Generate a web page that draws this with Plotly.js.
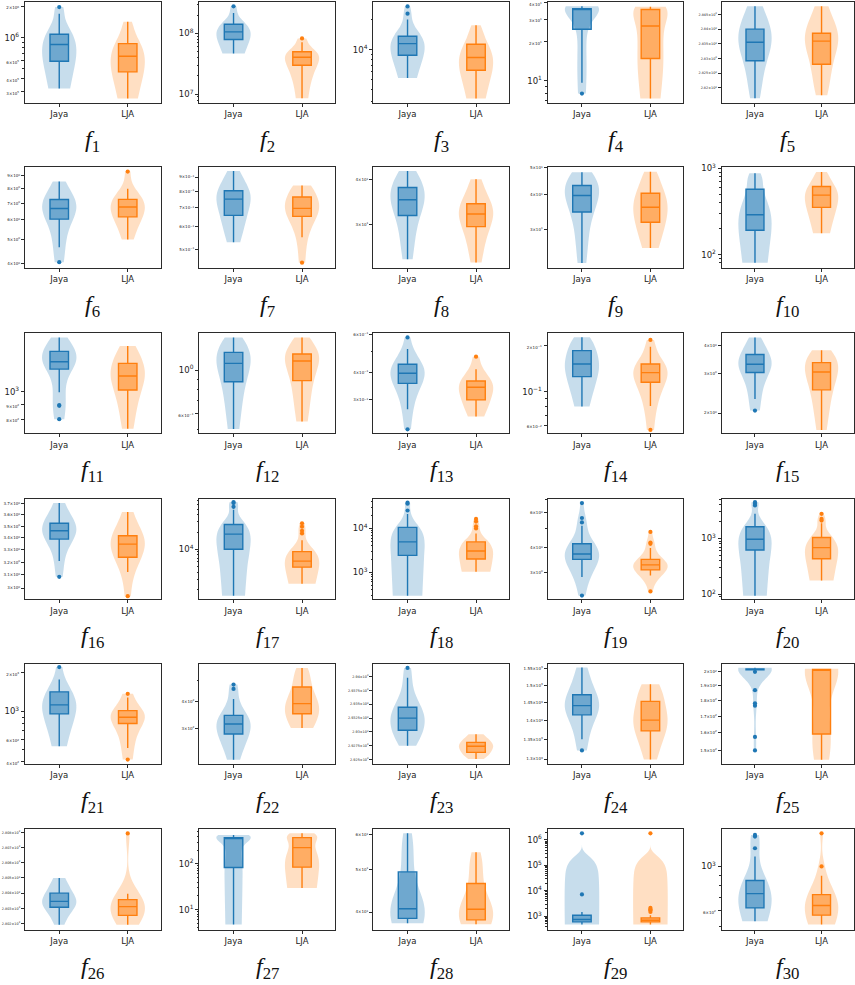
<!DOCTYPE html>
<html>
<head>
<meta charset="utf-8">
<script src="https://cdn.plot.ly/plotly-3.0.1.min.js"></script>
<style>
  html, body { margin: 0; padding: 0; background: #ffffff; }
  #chart { width: 855px; height: 985px; }
</style>
</head>
<body>
<div id="chart"></div>
<script>
// Benchmark functions f1..f30, two algorithms compared on each.
const functionLabels = Array.from({length: 30}, (_, i) => String(i + 1));
const algorithms = ['Jaya', 'LJA'];

// Final objective values per run, Jaya.
const jayaRuns = [
  [3.24e5, 4.0e5, 5.0e5, 5.92e5, 6.5e5, 7.5e5, 8.58e5, 9.2e5, 1.0e6, 1.076e6, 1.3e6, 1.70e6, 1.97e6],
  [4.7e7, 5.8e7, 7.0e7, 7.97e7, 8.8e7, 9.8e7, 1.065e8, 1.15e8, 1.28e8, 1.42e8, 1.6e8, 2.18e8, 2.8e8],
  [5.2e3, 6.2e3, 7.0e3, 8.0e3, 8.78e3, 9.5e3, 1.02e4, 1.09e4, 1.148e4, 1.2e4, 1.26e4, 1.31e4, 1.36e4, 1.6e4, 2.0e4, 2.29e4, 2.71e4],
  [7.98, 9.66, 14, 20, 25.0, 30, 34, 35.5, 35.9, 36.0, 36.0, 36.1, 36.1, 36.3, 36.8, 37.2, 37.7],
  [2816.4, 2821, 2825.5, 2829.2, 2832, 2834, 2835.5, 2836.8, 2838.2, 2840, 2842, 2844.5, 2847.8],
  [4.06, 4.66, 5.5, 6.04, 6.3, 6.5, 6.665, 6.8, 7.0, 7.24, 7.6, 8.0, 8.545],
  [0.530, 0.58, 0.62, 0.659, 0.69, 0.725, 0.752, 0.77, 0.785, 0.805, 0.84, 0.89, 0.946],
  [24.0, 26.5, 29.5, 31.8, 33.2, 34.3, 35.2, 36.0, 37.0, 38.1, 39.3, 40.8, 42.4],
  [22.8, 27, 31.5, 34.7, 36.5, 38.3, 39.8, 40.8, 42.0, 43.2, 44.8, 46.5, 48.2],
  [80.1, 110, 150, 191, 215, 250, 289, 340, 430, 572, 680, 780, 875],
  [800, 891, 897, 995, 1200, 1230, 1250, 1265, 1274, 1295, 1320, 1350, 1385, 1420, 1470, 1510, 1551],
  [0.504, 0.62, 0.76, 0.873, 0.95, 1.02, 1.080, 1.12, 1.17, 1.228, 1.30, 1.38, 1.461],
  [0.220, 0.2719, 0.31, 0.338, 0.357, 0.368, 0.378, 0.388, 0.3972, 0.405, 0.414, 0.425, 0.4367, 0.455, 0.48, 0.513, 0.580],
  [0.0797, 0.095, 0.112, 0.1254, 0.134, 0.143, 0.1518, 0.16, 0.172, 0.1856, 0.198, 0.212, 0.2269],
  [2.05, 2.312, 2.75, 3.04, 3.14, 3.23, 3.306, 3.38, 3.5, 3.655, 3.85, 4.1, 4.363],
  [3.085, 3.21, 3.32, 3.389, 3.42, 3.445, 3.461, 3.478, 3.5, 3.526, 3.57, 3.63, 3.707],
  [1540, 2500, 4000, 6000, 8000, 1.0e4, 1.15e4, 1.3e4, 1.5e4, 1.65e4, 1.84e4, 2.0e4, 2.15e4, 2.3e4, 2.5e4, 2.7e4, 3.5e4, 4.88e4, 5.5e4, 6.4e4, 6.66e4],
  [290, 600, 1000, 1500, 2000, 2430, 2800, 3200, 3700, 4300, 4920, 5600, 6400, 7500, 9000, 1.054e4, 1.5e4, 2.14e4, 2.56e4, 3.65e4, 3.85e4],
  [2.30, 2.85, 3.1, 3.3, 3.42, 3.5, 3.56, 3.6, 3.65, 3.69, 3.726, 3.78, 3.86, 3.95, 4.07, 4.2, 4.7, 5.17, 5.375, 5.66, 6.73],
  [93.3, 180, 280, 400, 520, 622, 680, 750, 820, 900, 972, 1050, 1150, 1280, 1450, 1630, 2100, 2770, 3930, 4210, 4520],
  [531, 680, 830, 953, 1010, 1060, 1121, 1190, 1290, 1420, 1560, 1774, 2220],
  [216.4, 235, 255, 270, 283.6, 292, 300, 308, 315, 322, 329, 337, 345, 370, 410, 455.5, 476.8],
  [2927.5, 2928.2, 2929, 2929.7, 2930.3, 2930.9, 2931.5, 2932, 2932.5, 2933, 2933.5, 2934, 2934.45, 2935.5, 2937, 2939.8, 2941.6],
  [1322, 1351, 1390, 1416.5, 1425, 1434, 1442, 1450, 1460, 1473, 1495, 1525, 1553],
  [150, 157.6, 176.7, 178.2, 187, 200, 201.3, 201.5, 201.55, 201.6, 201.62, 201.65, 201.68, 201.7, 201.72, 201.75, 201.8, 201.85, 201.9, 201.95, 202.0, 202.1, 202.2, 202.3, 202.4, 202.5, 202.7, 202.85, 202.95],
  [2801.93, 2802.4, 2802.8, 2803.07, 2803.2, 2803.33, 2803.46, 2803.58, 2803.75, 2804.0, 2804.3, 2804.6, 2804.99],
  [4.72, 20, 50, 83.2, 200, 330, 373, 373, 373, 373, 390, 410, 427],
  [37.7, 38.0, 38.4, 38.7, 39.3, 40.0, 40.7, 41.8, 44.0, 49.4, 53, 57, 60.5],
  [472, 500, 520, 540, 560, 575, 590, 600, 620, 640, 660, 680, 700, 720, 741, 780, 820, 870, 920, 980, 1040, 1094, 1150, 1250, 1350, 1420, 1476, 7200, 1.82e6],
  [531, 560, 585, 605, 619, 640, 670, 700, 730, 760, 790, 820, 850, 1122, 1235, 1413, 1440]
];

// Final objective values per run, LJA.
const ljaRuns = [
  [2.59e5, 3.4e5, 4.1e5, 4.68e5, 5.3e5, 6.0e5, 6.62e5, 7.2e5, 8.0e5, 8.75e5, 1.0e6, 1.2e6, 1.42e6],
  [8.6e6, 1.7e7, 2.5e7, 3.0e7, 3.4e7, 3.8e7, 4.05e7, 4.3e7, 4.6e7, 5.0e7, 5.6e7, 7.2e7, 8.3e7],
  [3.24e3, 4.2e3, 5.3e3, 6.21e3, 6.9e3, 7.6e3, 8.32e3, 9.0e3, 1.0e4, 1.13e4, 1.3e4, 1.5e4, 1.75e4],
  [7.3, 8.5, 11, 14.9, 18, 22, 26.5, 30, 33, 35.5, 36.2, 36.8, 37.3],
  [2817.5, 2821, 2825, 2828, 2831, 2834, 2835.9, 2836.8, 2837.7, 2838.6, 2841, 2844, 2847.8],
  [5.0, 5.5, 5.9, 6.17, 6.4, 6.6, 6.76, 6.9, 7.05, 7.25, 7.5, 8.0, 9.37],
  [0.449, 0.552, 0.61, 0.654, 0.67, 0.685, 0.698, 0.71, 0.735, 0.765, 0.79, 0.815, 0.840],
  [23.5, 25.5, 27.8, 29.6, 30.6, 31.4, 32.1, 32.8, 33.5, 34.3, 35.8, 37.8, 40.2],
  [25.8, 27.5, 30.0, 31.9, 33.5, 34.9, 36.1, 37.3, 38.8, 40.5, 42.5, 45.5, 48.4],
  [176, 230, 300, 352, 400, 445, 488, 520, 560, 614, 700, 800, 907],
  [740, 830, 930, 1013, 1060, 1100, 1135, 1170, 1210, 1257, 1310, 1380, 1446],
  [0.549, 0.66, 0.78, 0.884, 0.97, 1.05, 1.110, 1.14, 1.17, 1.204, 1.27, 1.36, 1.461],
  [0.2518, 0.268, 0.285, 0.300, 0.318, 0.332, 0.3428, 0.35, 0.358, 0.366, 0.385, 0.4143, 0.4733],
  [0.056, 0.0805, 0.095, 0.106, 0.115, 0.12, 0.125, 0.129, 0.1332, 0.137, 0.141, 0.146, 0.1518, 0.162, 0.178, 0.1972, 0.2181],
  [1.68, 2.0, 2.3, 2.54, 2.72, 2.9, 3.052, 3.15, 3.25, 3.363, 3.5, 3.68, 3.823],
  [2.94, 3.123, 3.19, 3.24, 3.29, 3.32, 3.347, 3.37, 3.39, 3.418, 3.47, 3.54, 3.625],
  [2510, 3200, 3800, 4300, 4600, 4880, 5100, 5400, 5700, 6000, 6220, 6500, 7000, 7600, 8300, 9100, 1.44e4, 1.89e4, 2.1e4, 2.48e4, 2.84e4],
  [1020, 1200, 1400, 1600, 1800, 2000, 2200, 2450, 2650, 2850, 3050, 3300, 3600, 4000, 4400, 4920, 7670, 1.0e4, 1.12e4, 1.43e4, 1.64e4],
  [2.415, 2.907, 2.98, 3.03, 3.07, 3.1, 3.15, 3.19, 3.22, 3.25, 3.285, 3.32, 3.36, 3.4, 3.45, 3.5, 3.7, 4.0, 4.194, 4.26, 4.814],
  [175, 230, 290, 340, 390, 433, 480, 530, 580, 630, 686, 740, 800, 870, 950, 1040, 1400, 1870, 2100, 2250, 2770],
  [417, 515, 700, 800, 840, 870, 897, 930, 970, 1010, 1100, 1280, 1370],
  [302, 318, 335, 351, 362, 375, 390, 405, 430, 465, 500, 535, 568],
  [2925.1, 2925.6, 2926.0, 2926.3, 2926.7, 2927.1, 2927.4, 2927.6, 2927.85, 2928.1, 2928.6, 2929.1, 2929.58],
  [1299, 1325, 1350, 1373, 1385, 1394, 1402, 1415, 1433, 1454, 1470, 1487, 1503],
  [145, 150, 155, 159.3, 170, 190, 201.5, 201.6, 201.7, 201.8, 201.9, 202.0, 202.2],
  [2801.93, 2802.15, 2802.35, 2802.54, 2802.75, 2802.95, 2803.11, 2803.25, 2803.4, 2803.57, 2803.75, 2803.96, 2807.93],
  [29.6, 45, 65, 84.7, 100, 130, 226, 300, 350, 373, 420, 445, 464],
  [37.5, 37.8, 38.1, 38.4, 39.0, 39.8, 40.6, 41.8, 43.5, 46.5, 50.0, 51.5, 54.8],
  [472, 490, 510, 530, 550, 565, 585, 600, 615, 630, 645, 660, 672, 685, 697, 715, 735, 760, 785, 810, 835, 861, 950, 1090, 1480, 1700, 1900, 2120, 1.82e6],
  [511, 525, 540, 555, 569, 585, 600, 618, 636, 655, 675, 698, 722, 800, 898, 1000, 1468]
];

// Labelled y ticks of each panel (log scale).
const yTickValues = [
  [3e5, 4e5, 6e5, 1e6, 2e6],
  [1e7, 1e8],
  [1e4],
  [10, 20, 30, 40],
  [2820, 2825, 2830, 2835, 2840, 2845],
  [4, 5, 6, 7, 8, 9],
  [0.5, 0.6, 0.7, 0.8, 0.9],
  [30, 40],
  [30, 40, 50],
  [100, 1000],
  [800, 900, 1000],
  [0.6, 1],
  [0.3, 0.4, 0.6],
  [0.06, 0.1, 0.2],
  [2, 3, 4],
  [3.0, 3.1, 3.2, 3.3, 3.4, 3.5, 3.6, 3.7],
  [1e4],
  [1e3, 1e4],
  [3, 4, 6],
  [100, 1000],
  [400, 600, 1000, 2000],
  [300, 400],
  [2925, 2927.5, 2930, 2932.5, 2935, 2937.5, 2940],
  [1300, 1350, 1400, 1450, 1500, 1550],
  [150, 160, 170, 180, 190, 200],
  [2802, 2803, 2804, 2805, 2806, 2807, 2808],
  [10, 100],
  [40, 50, 60],
  [1e3, 1e4, 1e5, 1e6],
  [600, 1000]
];

// ---- layout configuration ----
// visible y extent of each panel (data units, drawn on a log axis)
const yBounds = [
  [2.371e5, 2.203e6], [7.295e6, 3.304e8], [2951, 2.999e4], [6.81, 40.6], [2815, 2849.3],
  [3.855, 9.745], [0.4307, 0.974], [22.7, 43.4], [21.9, 50.2], [70.2, 1027],
  [714, 1611], [0.4795, 1.543], [0.2112, 0.6095], [0.0533, 0.2434], [1.624, 4.58],
  [2.918, 3.748], [1346, 7.62e4], [242.7, 4.753e4], [2.206, 7.08], [81.1, 5188],
  [385, 2370], [206.8, 595], [2924.2, 2942.4], [1287.5, 1565], [142.7, 206.2],
  [2801.61, 2808.22], [3.67, 577], [36.5, 61.9], [300.6, 2.69e6], [482, 1543]
];
// panels whose tick marks are only the labelled ones (narrow value span)
const labelledTicksOnly = new Set([4, 15, 22, 23, 24, 25]);

const W = 855, H = 985;
const colLeft = [25, 199.3, 373.3, 547.7, 721.7];
const rowTop = [2, 167.3, 332.7, 498.7, 663.5, 829];
const axW = 135.6, axH = 100.5;
const colors = { Jaya: '#1f77b4', LJA: '#ff7f0e' };
const violinFill = { Jaya: 'rgba(31,119,180,0.25)', LJA: 'rgba(255,127,14,0.25)' };
const boxFill = { Jaya: 'rgba(31,119,180,0.52)', LJA: 'rgba(255,127,14,0.52)' };
const AXIS_COLOR = '#2b2b2b';
const MAJOR_LABEL_SIZE = 8.5, MINOR_LABEL_SIZE = 4, LONG_MINOR_LABEL_SIZE = 3.4;

function isDecade(v) {
  const l = Math.log10(v);
  return Math.abs(l - Math.round(l)) < 1e-9;
}

function mantissa(v) {
  const e = Math.floor(Math.log10(v) + 1e-9);
  return { m: +(v / Math.pow(10, e)).toPrecision(6), e: e };
}

// "10^n" for decades, "m×10^n" (small print) for the other labelled ticks
function tickText(v, mixed) {
  const { m, e } = mantissa(v);
  const ex = e < 0 ? '\u2212' + (-e) : String(e);
  if (isDecade(v)) return '10<sup>' + ex + '</sup>';
  const t = m + '\u00d710<sup>' + ex + '</sup>';
  return mixed ? '<span style="font-size:' + MINOR_LABEL_SIZE + 'px">' + t + '</span>' : t;
}

function minorMarks(lo, hi, labelled) {
  const out = [];
  for (let e = Math.floor(Math.log10(lo)) - 1; e <= Math.ceil(Math.log10(hi)); e++) {
    for (let k = 1; k <= 9; k++) {
      const v = k * Math.pow(10, e);
      if (v >= lo && v <= hi && !labelled.some(t => Math.abs(t - v) / v < 1e-9)) out.push(v);
    }
  }
  return out;
}

// Scott's rule bandwidth, as used for the kernel density of each violin
function scottBandwidth(vals) {
  const n = vals.length;
  const mean = vals.reduce((a, b) => a + b, 0) / n;
  const sd = Math.sqrt(vals.reduce((a, b) => a + (b - mean) * (b - mean), 0) / (n - 1));
  return sd * Math.pow(n, -0.2);
}

const traces = [];
const layout = {
  width: W, height: H,
  margin: { l: 0, r: 0, t: 0, b: 0 },
  paper_bgcolor: '#ffffff', plot_bgcolor: '#ffffff',
  showlegend: false,
  violinmode: 'overlay', boxmode: 'overlay',
  font: { family: 'DejaVu Sans, sans-serif', size: 8.5, color: '#222222' },
  annotations: []
};

functionLabels.forEach((label, i) => {
  const r = Math.floor(i / 5), c = i % 5;
  const xa = i === 0 ? 'x' : 'x' + (i + 1);
  const ya = i === 0 ? 'y' : 'y' + (i + 1);
  const left = colLeft[c], right = Math.min(colLeft[c] + axW, 853.5);
  const top = rowTop[r], bottom = rowTop[r] + axH;

  [jayaRuns[i], ljaRuns[i]].forEach((vals, k) => {
    const alg = algorithms[k];
    traces.push({
      type: 'violin', xaxis: xa, yaxis: ya, x0: k, y: vals, name: alg,
      width: 0.5, scalemode: 'width', spanmode: 'hard', side: 'both',
      bandwidth: scottBandwidth(vals),
      points: false, box: { visible: false }, meanline: { visible: false },
      fillcolor: violinFill[alg], line: { width: 0, color: 'rgba(0,0,0,0)' },
      hoverinfo: 'skip'
    });
    traces.push({
      type: 'box', xaxis: xa, yaxis: ya, x0: k, y: vals, name: alg,
      width: 0.27, quartilemethod: 'inclusive', boxpoints: 'outliers',
      jitter: 0, pointpos: 0, whiskerwidth: 0,
      fillcolor: boxFill[alg], line: { color: colors[alg], width: 1.4 },
      marker: { color: colors[alg], size: 4.2, line: { width: 0 } },
      hoverinfo: 'skip'
    });
  });

  const [lo, hi] = yBounds[i];
  const ticks = yTickValues[i];
  const hasDecade = ticks.some(isDecade);
  const hasOther = ticks.some(v => !isDecade(v));
  const mixed = hasDecade && hasOther;
  const longLabels = ticks.some(v => String(mantissa(v).m).length > 4);
  const labelSize = hasDecade ? MAJOR_LABEL_SIZE : (longLabels ? LONG_MINOR_LABEL_SIZE : MINOR_LABEL_SIZE);
  const yAxis = {
    domain: [1 - bottom / H, 1 - top / H],
    anchor: xa, type: 'log',
    range: [Math.log10(lo), Math.log10(hi)],
    tickmode: 'array', tickvals: ticks, ticktext: ticks.map(v => tickText(v, mixed)),
    ticks: 'outside', ticklen: 3, tickwidth: 0.8, tickcolor: AXIS_COLOR,
    tickfont: { family: 'DejaVu Sans, sans-serif', size: labelSize, color: '#222222' },
    showline: true, linecolor: AXIS_COLOR, linewidth: 1.3, mirror: true,
    showgrid: false, zeroline: false, fixedrange: true
  };
  if (!labelledTicksOnly.has(i)) {
    yAxis.minor = {
      tickmode: 'array', tickvals: minorMarks(lo, hi, ticks),
      ticks: 'outside', ticklen: 1.6, tickwidth: 0.6, tickcolor: AXIS_COLOR, showgrid: false
    };
  }
  layout[i === 0 ? 'yaxis' : 'yaxis' + (i + 1)] = yAxis;
  layout[i === 0 ? 'xaxis' : 'xaxis' + (i + 1)] = {
    domain: [left / W, right / W],
    anchor: ya, type: 'linear', range: [-0.5, 1.48],
    tickmode: 'array', tickvals: [0, 1], ticktext: algorithms,
    ticks: 'outside', ticklen: 3, tickwidth: 0.8, tickcolor: AXIS_COLOR,
    tickfont: { family: 'DejaVu Sans, sans-serif', size: 8.5, color: '#222222' },
    showline: true, linecolor: AXIS_COLOR, linewidth: 1.3, mirror: true,
    showgrid: false, zeroline: false, fixedrange: true
  };
  layout.annotations.push({
    xref: 'paper', yref: 'paper',
    x: (left + right) / 2 / W, y: 1 - (bottom + 38) / H,
    xanchor: 'center', yanchor: 'middle', showarrow: false,
    text: '<i>f</i><sub>' + label + '</sub>',
    font: { family: 'Liberation Serif, DejaVu Serif, serif', size: 24, color: '#111111' }
  });
});

Plotly.newPlot('chart', traces, layout, { displayModeBar: false });
</script>
</body>
</html>
